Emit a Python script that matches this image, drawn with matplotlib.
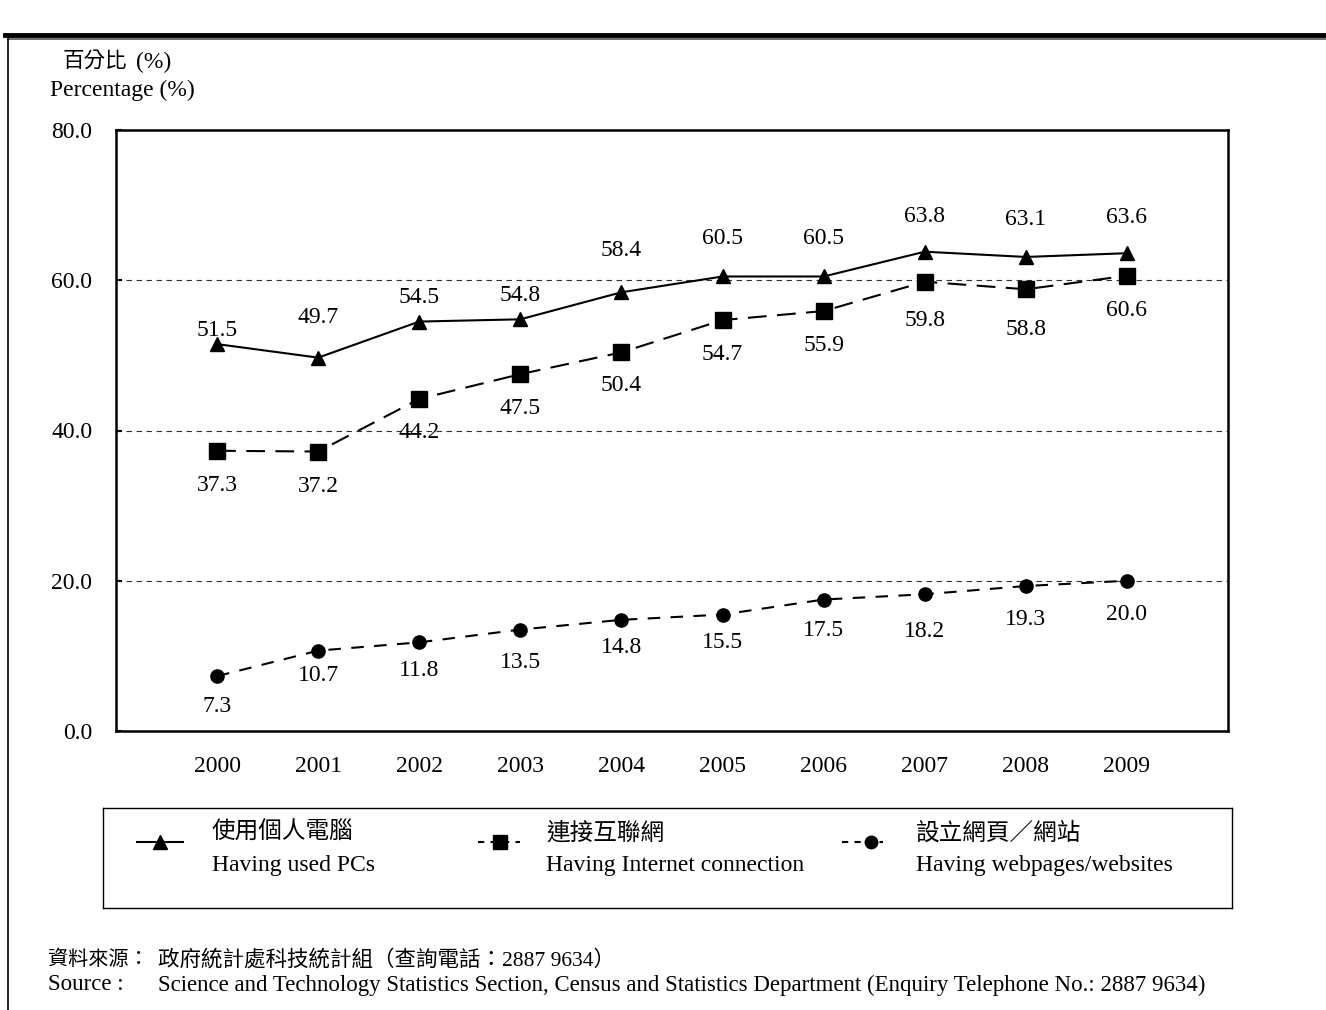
import matplotlib
matplotlib.use('Agg')
import matplotlib.pyplot as plt
from matplotlib.lines import Line2D

plt.rcParams['font.family'] = ['Liberation Serif', 'Noto Sans CJK TC', 'DejaVu Sans']

# data
years = ['2000', '2001', '2002', '2003', '2004', '2005', '2006', '2007', '2008', '2009']
used_pcs = [51.5, 49.7, 54.5, 54.8, 58.4, 60.5, 60.5, 63.8, 63.1, 63.6]
internet = [37.3, 37.2, 44.2, 47.5, 50.4, 54.7, 55.9, 59.8, 58.8, 60.6]
websites = [7.3, 10.7, 11.8, 13.5, 14.8, 15.5, 17.5, 18.2, 19.3, 20.0]
y_ticks = [0, 20, 40, 60, 80]

# label offsets in points (up positive), as placed in the original
pcs_off = [10, 29, 17, 17, 30, 27, 27, 25, 27, 26]
net_off = [-25, -25, -24, -25, -24, -25, -25, -28, -29, -25]
web_off = [-22, -18, -20, -24, -20, -20, -22, -27, -24, -24]

W, H = 1326, 1010
fig = plt.figure(figsize=(W / 100, H / 100), dpi=100)

def box(l, t, r, b):
    return [l / W, 1 - b / H, (r - l) / W, (b - t) / H]

# page decorations
fig.add_artist(Line2D([5 / W, 1], [1 - 35 / H, 1 - 35 / H], color='black', lw=3.5))
fig.add_artist(Line2D([8 / W, 1], [1 - 39 / H, 1 - 39 / H], color='#555555', lw=1.2))
fig.add_artist(Line2D([8 / W, 8 / W], [1 - 39 / H, 0], color='black', lw=1.2))

ax = fig.add_axes(box(116, 130, 1228, 731))
x = list(range(len(years)))
fs = 17

ax.plot(x, used_pcs, color='black', lw=1.5, marker='^', ms=10, zorder=3)
ax.plot(x, internet, color='black', lw=1.5, marker='s', ms=11, dashes=(9, 5), zorder=3)
ax.plot(x, websites, color='black', lw=1.5, marker='o', ms=9.5, dashes=(6, 5), zorder=3)

for i in x:
    ax.annotate(f'{used_pcs[i]:.1f}', (i, used_pcs[i]), xytext=(0, pcs_off[i]),
                textcoords='offset points', ha='center', va='center', fontsize=fs)
    ax.annotate(f'{internet[i]:.1f}', (i, internet[i]), xytext=(0, net_off[i]),
                textcoords='offset points', ha='center', va='center', fontsize=fs)
    ax.annotate(f'{websites[i]:.1f}', (i, websites[i]), xytext=(0, web_off[i]),
                textcoords='offset points', ha='center', va='center', fontsize=fs)

ax.set_xlim(-1, 10)
ax.set_ylim(0, 80)
ax.set_xticks(x)
ax.set_xticklabels(years, fontsize=fs)
ax.set_yticks(y_ticks)
ax.set_yticklabels([f'{v:.1f}' for v in y_ticks], fontsize=fs)
ax.tick_params(axis='x', length=0, pad=18)
ax.tick_params(axis='y', direction='in', length=4, width=1.5, pad=17)
for yv in y_ticks[1:-1]:
    ax.axhline(yv, color='#333333', lw=0.8, dashes=(5, 4), zorder=1)
for s in ax.spines.values():
    s.set_linewidth(1.8)

fig.text(63 / W, 1 - 62 / H, '百分比', fontsize=15.5, va='center', ha='left', fontweight='light')
fig.text(136 / W, 1 - 62 / H, '(%)', fontsize=fs, va='center', ha='left')
fig.text(50 / W, 1 - 90 / H, 'Percentage (%)', fontsize=fs, va='center', ha='left')

# legend box
lg = fig.add_axes(box(103, 808, 1232, 908))
lg.set_xlim(103, 1232)
lg.set_ylim(908, 808)
lg.set_xticks([])
lg.set_yticks([])
for s in lg.spines.values():
    s.set_linewidth(1.0)

entries = [
    (137, 183, 160, '^', 10, None, '使用個人電腦', 'Having used PCs', 212),
    (478, 520, 500, 's', 10, (3, 3), '連接互聯網', 'Having Internet connection', 546),
    (842, 883, 871, 'o', 9, (3, 3), '設立網頁／網站', 'Having webpages/websites', 916),
]
for x0, x1, xm, mk, ms, dsh, zh, en, tx in entries:
    ln = Line2D([x0, x1], [842, 842], color='black', lw=1.5)
    if dsh:
        ln.set_dashes(dsh)
    lg.add_line(ln)
    lg.plot([xm], [842], marker=mk, ms=ms, color='black')
    lg.text(tx, 833, zh, fontsize=fs, va='center', ha='left', fontweight='light')
    lg.text(tx, 865, en, fontsize=fs, va='center', ha='left')

# source
sfs = 16.5
fig.text(48 / W, 1 - 960 / H, '資料來源：', fontsize=14.5, va='center', fontweight='light')
fig.text(158 / W, 1 - 960 / H, '政府統計處科技統計組（查詢電話：2887 9634）', fontsize=15.5,
         va='center', fontweight='light')
fig.text(48 / W, 1 - 985 / H, 'Source :', fontsize=sfs, va='center')
fig.text(158 / W, 1 - 985 / H,
         'Science and Technology Statistics Section, Census and Statistics Department (Enquiry Telephone No.: 2887 9634)',
         fontsize=sfs, va='center')

fig.savefig('out.png', dpi=100)
